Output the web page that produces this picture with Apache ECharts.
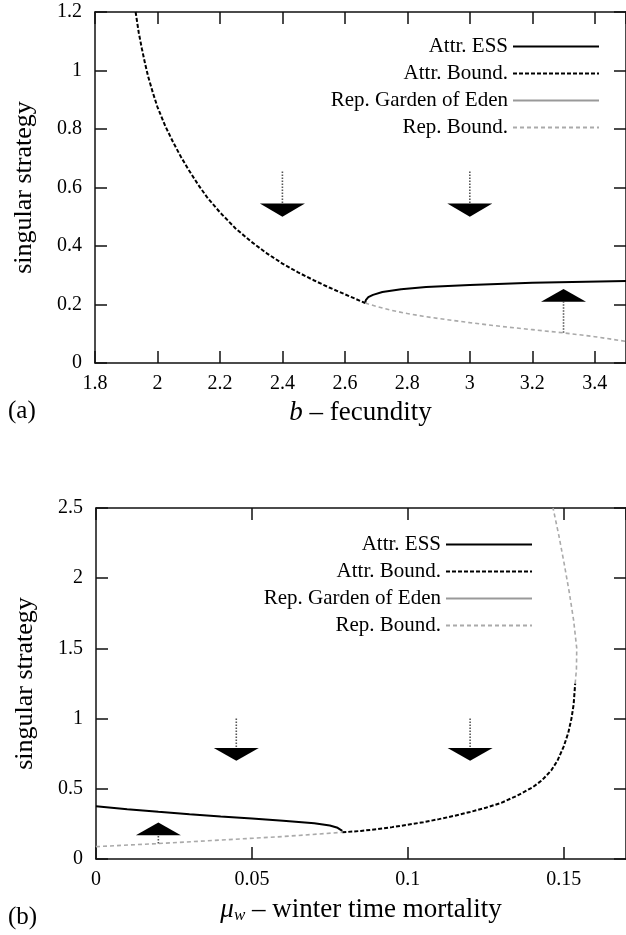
<!DOCTYPE html>
<html>
<head>
<meta charset="utf-8">
<script src="https://cdn.jsdelivr.net/npm/echarts@6/dist/echarts.min.js"></script>
<style>html,body{margin:0;padding:0;background:#fff}#c{width:626px;height:935px}</style>
</head>
<body>
<div id="c"></div>
<script>
// ---------- DATA ----------
// Panel (a): b - fecundity
const legendNames = ['Attr. ESS', 'Attr. Bound.', 'Rep. Garden of Eden', 'Rep. Bound.'];
const aAttrESS = [[2.665,0.205],[2.667,0.215],[2.675,0.225],[2.69,0.233],[2.72,0.243],[2.78,0.252],[2.86,0.26],[3.0,0.267],[3.2,0.274],[3.5,0.28]];
const aAttrBound = [[1.93,1.2],[1.94,1.13],[1.95,1.075],[1.96,1.025],[1.97,0.98],[1.985,0.925],[2.0,0.875],[2.025,0.81],[2.05,0.755],[2.075,0.705],[2.1,0.66],[2.13,0.61],[2.16,0.565],[2.2,0.515],[2.25,0.46],[2.3,0.415],[2.35,0.375],[2.4,0.34],[2.45,0.31],[2.5,0.283],[2.55,0.258],[2.6,0.235],[2.665,0.205]];
const aRepGarden = [];
const aRepBound = [[2.665,0.205],[2.7,0.194],[2.75,0.18],[2.8,0.169],[2.85,0.16],[2.9,0.152],[3.0,0.138],[3.1,0.125],[3.2,0.114],[3.3,0.103],[3.4,0.09],[3.5,0.074]];
// arrows: [x, stem start, triangle base, triangle tip]
const aArrows = [[2.4,0.655,0.545,0.5],[3.0,0.655,0.545,0.5],[3.3,0.103,0.209,0.253]];
const aXTicks = {min:1.8, max:3.5, interval:0.2};
const aYTicks = {min:0, max:1.2, interval:0.2};

// Panel (b): mu_w - winter time mortality
const bAttrESS = [[0,0.375],[0.01,0.355],[0.02,0.336],[0.03,0.318],[0.04,0.303],[0.05,0.289],[0.06,0.273],[0.07,0.254],[0.075,0.238],[0.0775,0.222],[0.079,0.2]];
const bAttrBound = [[0.079,0.19],[0.085,0.2],[0.09,0.212],[0.095,0.227],[0.1,0.244],[0.105,0.262],[0.11,0.284],[0.115,0.308],[0.12,0.335],[0.125,0.365],[0.13,0.4],[0.135,0.45],[0.14,0.51],[0.143,0.56],[0.146,0.63],[0.148,0.7],[0.15,0.8],[0.1515,0.9],[0.1525,1.0],[0.1532,1.1],[0.1537,1.25]];
const bRepGarden = [];
const bRepBound = [[0,0.088],[0.02,0.11],[0.04,0.135],[0.06,0.16],[0.079,0.19],null,[0.1537,1.25],[0.1541,1.35],[0.1542,1.5],[0.1532,1.7],[0.1518,1.9],[0.1502,2.1],[0.1485,2.3],[0.1466,2.5]];
const bArrows = [[0.045,1.0,0.79,0.7],[0.12,1.0,0.79,0.7],[0.02,0.11,0.17,0.26]];
const bXTicks = {min:0, max:0.17, interval:0.05};
const bYTicks = {min:0, max:2.5, interval:0.5};

// ---------- STYLE ----------
const FONT = '"Liberation Serif", "Times New Roman", serif';
const AX = '#111';
const styles = {
  'Attr. ESS': {color:'#000', width:2, type:'solid'},
  'Attr. Bound.': {color:'#000', width:2, type:[4,2]},
  'Rep. Garden of Eden': {color:'#999', width:1.5, type:'solid'},
  'Rep. Bound.': {color:'#aaa', width:1.6, type:[4,3]}
};

function axisBase(t, show, pos) {
  return {
    type:'value', min:t.min, max:t.max, interval:t.interval, position:pos,
    axisLine:{show:true, onZero:false, lineStyle:{color:AX, width:1.5}},
    axisTick:{show:true, inside:true, length:12, lineStyle:{color:AX, width:1.5}},
    splitLine:{show:false},
    axisLabel:{show:show, showMaxLabel: pos==='left' ? true : false, color:'#000', fontFamily:FONT, fontSize:20, margin: pos==='left' ? 13 : 11}
  };
}

function lineSeries(name, data, xi, yi) {
  const s = styles[name];
  return {
    type:'line', name:name, data:data, xAxisIndex:xi, yAxisIndex:yi,
    showSymbol:false, symbol:'none', smooth:false, connectNulls:false, clip:true,
    lineStyle:{color:s.color, width:s.width, type:s.type},
    itemStyle:{color:s.color}, z:3, animation:false
  };
}

function arrowSeries(data, xi, yi) {
  return {
    type:'custom', xAxisIndex:xi, yAxisIndex:yi, data:data, animation:false, z:4,
    encode:{x:0, y:[1,2,3]},
    renderItem:function(params, api){
      const x = api.value(0);
      const p0 = api.coord([x, api.value(1)]);
      const pb = api.coord([x, api.value(2)]);
      const pt = api.coord([x, api.value(3)]);
      const hw = 22.5;
      return {type:'group', children:[
        {type:'line', shape:{x1:p0[0], y1:p0[1], x2:pb[0], y2:pb[1]},
         style:{stroke:'#555', lineWidth:1.6, lineDash:[1.5,1.5]}},
        {type:'polygon', shape:{points:[[pb[0]-hw,pb[1]],[pb[0]+hw,pb[1]],[pt[0],pt[1]]]},
         style:{fill:'#000'}}
      ]};
    }
  };
}

function legend(right, top) {
  return {
    data:legendNames, orient:'vertical', right:right, top:top, align:'right',
    itemWidth:86, itemHeight:14, itemGap:6, selectedMode:false,
    itemStyle:{opacity:0, borderWidth:0},
    textStyle:{fontFamily:FONT, fontSize:21, color:'#000'}
  };
}

const option = {
  backgroundColor:'#fff',
  animation:false,
  grid:[
    {left:95, top:12, right:-9, height:351},
    {left:96, top:508, right:-12, height:351}
  ],
  xAxis:[
    Object.assign(axisBase(aXTicks, true, 'bottom'), {gridIndex:0, name:'{i|b} – fecundity', nameLocation:'middle', nameGap:36,
      nameTextStyle:{fontFamily:FONT, fontSize:27, color:'#000', rich:{i:{fontFamily:FONT, fontSize:27, fontStyle:'italic', color:'#000'}}}}),
    Object.assign(axisBase(aXTicks, false, 'top'), {gridIndex:0}),
    Object.assign(axisBase(bXTicks, true, 'bottom'), {gridIndex:1, name:'{i|μ}{s|w} – winter time mortality', nameLocation:'middle', nameGap:36,
      nameTextStyle:{fontFamily:FONT, fontSize:27, color:'#000', rich:{
        i:{fontFamily:FONT, fontSize:27, fontStyle:'italic', color:'#000'},
        s:{fontFamily:FONT, fontSize:17, fontStyle:'italic', color:'#000', padding:[12,0,0,0]}}}}),
    Object.assign(axisBase(bXTicks, false, 'top'), {gridIndex:1})
  ],
  yAxis:[
    Object.assign(axisBase(aYTicks, true, 'left'), {gridIndex:0, name:'singular strategy', nameLocation:'middle', nameGap:58,
      nameTextStyle:{fontFamily:FONT, fontSize:26, color:'#000'}}),
    Object.assign(axisBase(aYTicks, false, 'right'), {gridIndex:0}),
    Object.assign(axisBase(bYTicks, true, 'left'), {gridIndex:1, name:'singular strategy', nameLocation:'middle', nameGap:58,
      nameTextStyle:{fontFamily:FONT, fontSize:26, color:'#000'}}),
    Object.assign(axisBase(bYTicks, false, 'right'), {gridIndex:1})
  ],
  legend:[legend(21, 31), legend(88, 529)],
  graphic:[
    {type:'text', left:8, top:399, style:{text:'(a)', font:'25px ' + FONT, fill:'#000'}},
    {type:'text', left:8, top:905, style:{text:'(b)', font:'25px ' + FONT, fill:'#000'}}
  ],
  series:[
    lineSeries('Attr. ESS', aAttrESS, 0, 0),
    lineSeries('Attr. Bound.', aAttrBound, 0, 0),
    lineSeries('Rep. Garden of Eden', aRepGarden, 0, 0),
    lineSeries('Rep. Bound.', aRepBound, 0, 0),
    arrowSeries(aArrows, 0, 0),
    lineSeries('Attr. ESS', bAttrESS, 2, 2),
    lineSeries('Attr. Bound.', bAttrBound, 2, 2),
    lineSeries('Rep. Garden of Eden', bRepGarden, 2, 2),
    lineSeries('Rep. Bound.', bRepBound, 2, 2),
    arrowSeries(bArrows, 2, 2)
  ]
};
const chart = echarts.init(document.getElementById('c'), null, {renderer:'canvas'});
chart.setOption(option);
</script>
</body>
</html>
